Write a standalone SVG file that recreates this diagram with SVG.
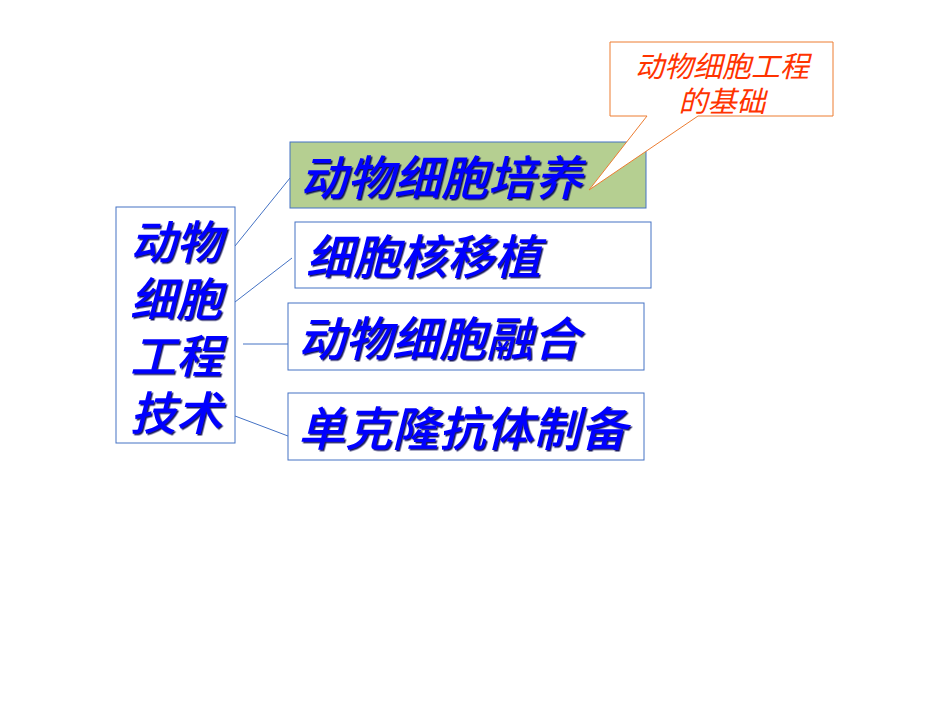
<svg xmlns="http://www.w3.org/2000/svg" width="950" height="713" viewBox="0 0 950 713">
<defs>
<filter id="sh" x="-5%" y="-10%" width="110%" height="125%">
<feDropShadow dx="1.5" dy="1.5" stdDeviation="0.3" flood-color="#000050" flood-opacity="0.9"/>
</filter>
</defs>
<style>
.box{fill:#fff;stroke:#4472c4;stroke-width:1}
.t{font-family:"Noto Sans CJK SC","Noto Sans",sans-serif;font-style:italic;font-weight:500;fill:#0000ff;filter:url(#sh)}
.c{stroke:#4472c4;stroke-width:1;fill:none}
.r{font-family:"Noto Sans CJK SC","Noto Sans",sans-serif;font-style:italic;fill:#ff3300;font-size:29px}
</style>
<rect width="950" height="713" fill="#fff"/>
<g id="connectors">
<line class="c" x1="235" y1="246" x2="290" y2="178"/>
<line class="c" x1="235" y1="302" x2="292" y2="258"/>
<line class="c" x1="243" y1="344" x2="288" y2="344"/>
<line class="c" x1="235" y1="416" x2="288" y2="436"/>
</g>
<g id="root">
<rect class="box" x="116" y="207" width="119" height="236"/>
<g font-size="46">
<text class="t" x="176" y="259" text-anchor="middle">动物</text>
<text class="t" x="176" y="316" text-anchor="middle">细胞</text>
<text class="t" x="176" y="373" text-anchor="middle">工程</text>
<text class="t" x="176" y="430" text-anchor="middle">技术</text>
</g>
</g>
<g id="n1">
<rect x="290" y="142" width="356" height="66" fill="#b5cf91" stroke="#4472c4"/>
<text class="t" x="300" y="195" font-size="47">动物细胞培养</text>
</g>
<g id="n2">
<rect class="box" x="295" y="222" width="356" height="66"/>
<text class="t" x="306" y="274" font-size="47">细胞核移植</text>
</g>
<g id="n3">
<rect class="box" x="288" y="303" width="356" height="67"/>
<text class="t" x="298" y="356" font-size="47">动物细胞融合</text>
</g>
<g id="n4">
<rect class="box" x="288" y="393" width="356" height="67"/>
<text class="t" x="298" y="446" font-size="47">单克隆抗体制备</text>
</g>
<g id="callout">
<path d="M610,42 H833 V116 H698 L589,190 L647,116 H610 Z" fill="#fff" stroke="#ed7d31" stroke-width="1"/>
<text class="r" x="722" y="77" text-anchor="middle">动物细胞工程</text>
<text class="r" x="722" y="112" text-anchor="middle">的基础</text>
</g>
</svg>
